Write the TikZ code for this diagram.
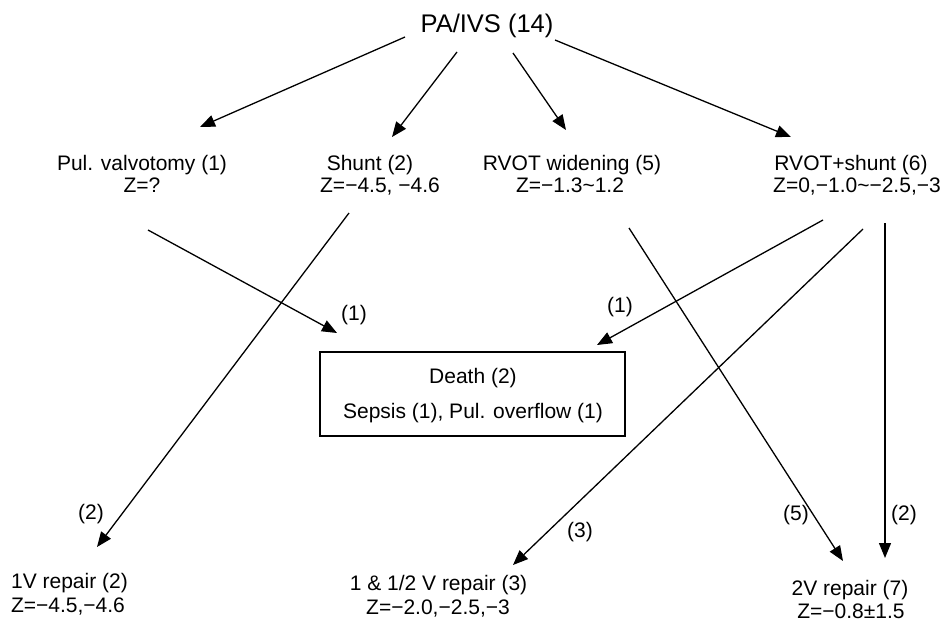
\documentclass[tikz,border=0pt]{standalone}
\usepackage{fontspec}
\setmainfont{Liberation Sans}
\usetikzlibrary{arrows.meta}
\begin{document}
\begin{tikzpicture}[x=1pt,y=-1pt,
  lbl/.style={inner sep=0pt,anchor=base,font=\fontsize{21}{24}\selectfont},
  cnt/.style={inner sep=0pt,font=\fontsize{21}{24}\selectfont},
  arr/.style={line width=1.3pt,-{Triangle[length=15pt,width=12pt]}},
  outbox/.style={draw,line width=1.1pt}]
\useasboundingbox (0,0) rectangle (946,624);
% title
\node[inner sep=0pt,anchor=base,font=\fontsize{25.5}{28}\selectfont] (pa) at (487,32) {PA/IVS (14)};
% middle row
\node[lbl] (pv) at (142,170) {Pul. valvotomy (1)};
\node[lbl] (pvz) at (142,192) {Z=?};
\node[lbl] (sh) at (370,170) {Shunt (2)};
\node[lbl] (shz) at (380,192) {Z=−4.5, −4.6};
\node[lbl] (rw) at (572,170) {RVOT widening (5)};
\node[lbl] (rwz) at (570,192) {Z=−1.3\char"7E 1.2};
\node[lbl] (rs) at (851,170) {RVOT+shunt (6)};
\node[lbl] (rsz) at (857,192) {Z=0,−1.0\char"7E −2.5,−3};
% death box
\draw[outbox] (320,352) rectangle (625,436);
\node[lbl] (death) at (473,383) {Death (2)};
\node[lbl] (cause) at (473,418) {Sepsis (1), Pul. overflow (1)};
% bottom row
\node[lbl] (one) at (69.5,588) {1V repair (2)};
\node[lbl] (onez) at (68,612) {Z=−4.5,−4.6};
\node[lbl] (half) at (438.5,590) {1 \& 1/2 V repair (3)};
\node[lbl] (halfz) at (438,614) {Z=−2.0,−2.5,−3};
\node[lbl] (two) at (850,595) {2V repair (7)};
\node[lbl] (twoz) at (851,618) {Z=−0.8±1.5};
% arrow end points
\coordinate (a1s) at (405,37);  \coordinate (a1e) at (200,127);
\coordinate (a2s) at (457,52);  \coordinate (a2e) at (392,137);
\coordinate (a3s) at (513,53);  \coordinate (a3e) at (566,130);
\coordinate (a4s) at (555,40);  \coordinate (a4e) at (791,137);
\coordinate (b1s) at (148,230); \coordinate (b1e) at (337,333);
\coordinate (b2s) at (349,213); \coordinate (b2e) at (97,547);
\coordinate (b3s) at (629,228); \coordinate (b3e) at (843,561);
\coordinate (b4s) at (823,220); \coordinate (b4e) at (597,345);
\coordinate (b5s) at (863,229); \coordinate (b5e) at (513,565);
\coordinate (b6s) at (885,223); \coordinate (b6e) at (885,558);
\draw[arr] (a1s) -- (a1e);
\draw[arr] (a2s) -- (a2e);
\draw[arr] (a3s) -- (a3e);
\draw[arr] (a4s) -- (a4e);
\draw[arr] (b1s) -- (b1e);
\draw[arr] (b2s) -- (b2e);
\draw[arr] (b3s) -- (b3e);
\draw[arr] (b4s) -- (b4e);
\draw[arr] (b5s) -- (b5e);
\draw[arr] (b6s) -- (b6e);
% counts
\node[cnt] (c1) at (354,315) {(1)};
\node[cnt] (c2) at (620,307) {(1)};
\node[cnt] (c3) at (91,514) {(2)};
\node[cnt] (c4) at (580,532) {(3)};
\node[cnt] (c5) at (796,515) {(5)};
\node[cnt] (c6) at (904,515) {(2)};
\end{tikzpicture}
\end{document}
